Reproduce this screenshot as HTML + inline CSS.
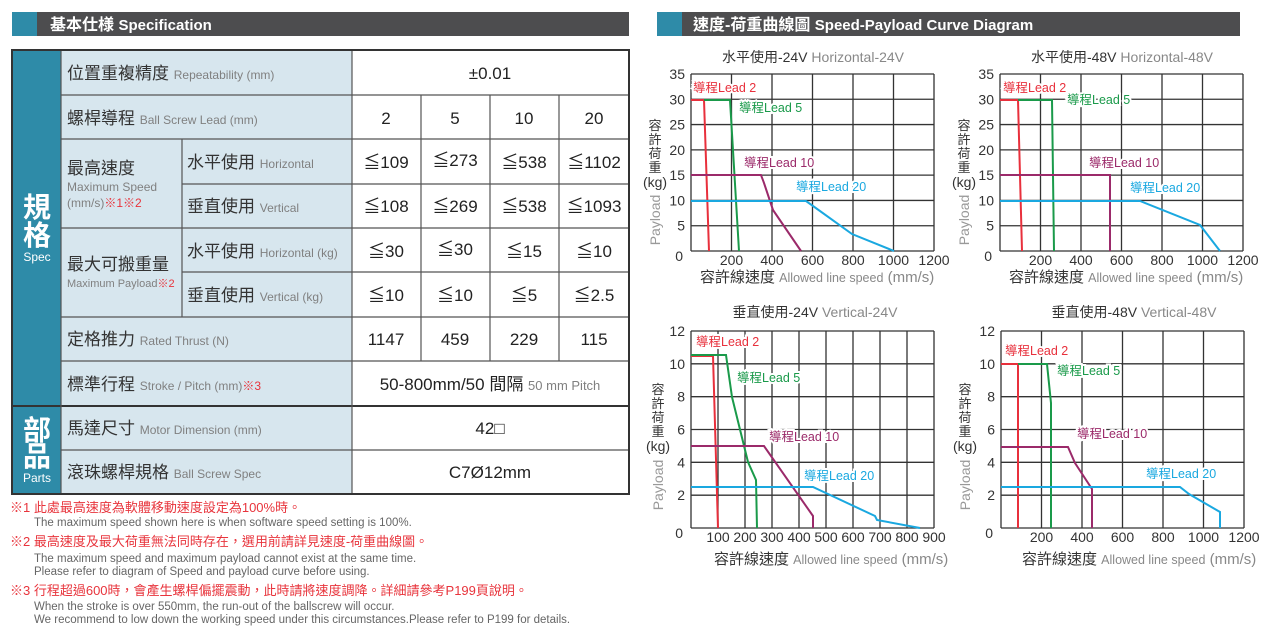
<!DOCTYPE html>
<html><head><meta charset="utf-8">
<style>
html,body{margin:0;padding:0;background:#fff;}
svg{display:block;font-family:"Liberation Sans","Noto Sans CJK TC",sans-serif;}
</style></head>
<body>
<svg id="s" width="1261" height="628" viewBox="0 0 1261 628" xmlns="http://www.w3.org/2000/svg">
<rect x="12" y="12" width="617" height="24" fill="#4d4d4f"/>
<rect x="12" y="12" width="25" height="24" fill="#2e8ba8"/>
<text x="50" y="30" fill="#fff" font-size="16" font-weight="bold">基本仕様 <tspan font-size="15">Specification</tspan></text>
<rect x="657" y="12" width="583" height="24" fill="#4d4d4f"/>
<rect x="657" y="12" width="25" height="24" fill="#2e8ba8"/>
<text x="693" y="30" fill="#fff" font-size="16" font-weight="bold">速度-荷重曲線圖 <tspan font-size="15">Speed-Payload Curve Diagram</tspan></text>

<rect x="61" y="50" width="291" height="444" fill="#d7e6ee"/>
<rect x="352" y="50" width="277" height="444" fill="#fff"/>
<rect x="12" y="50" width="49" height="444" fill="#2e8ba8"/>
<g stroke="#555" stroke-width="1.2" fill="none">
<line x1="61" y1="95" x2="629" y2="95"/>
<line x1="61" y1="139" x2="629" y2="139"/>
<line x1="182" y1="184" x2="629" y2="184"/>
<line x1="61" y1="228" x2="629" y2="228"/>
<line x1="182" y1="272" x2="629" y2="272"/>
<line x1="61" y1="317" x2="629" y2="317"/>
<line x1="61" y1="361" x2="629" y2="361"/>
<line x1="12" y1="406" x2="629" y2="406" stroke="#333" stroke-width="2"/>
<line x1="61" y1="450" x2="629" y2="450"/>
<line x1="182" y1="139" x2="182" y2="317"/>
<line x1="352" y1="50" x2="352" y2="494"/>
<line x1="421" y1="95" x2="421" y2="361"/>
<line x1="490" y1="95" x2="490" y2="361"/>
<line x1="559" y1="95" x2="559" y2="361"/>
<line x1="61" y1="50" x2="61" y2="494"/>
</g>
<rect x="12" y="50" width="617" height="444" fill="none" stroke="#333" stroke-width="2"/>

<g fill="#fff" text-anchor="middle" font-weight="bold">
<text x="37" y="217" font-size="28">規</text>
<text x="37" y="245" font-size="28">格</text>
<text x="37" y="261" font-size="12" font-weight="normal">Spec</text>
<text x="37" y="440" font-size="28">部</text>
<text x="37" y="466" font-size="28">品</text>
<text x="37" y="482" font-size="12" font-weight="normal">Parts</text>
</g>

<g font-size="17" fill="#333">
<text x="67" y="79">位置重複精度 <tspan font-size="12" fill="#808080">Repeatability (mm)</tspan></text>
<text x="67" y="124">螺桿導程 <tspan font-size="12" fill="#808080">Ball Screw Lead (mm)</tspan></text>
<text x="67" y="174">最高速度</text>
<text x="67" y="191" font-size="12" fill="#808080">Maximum Speed</text>
<text x="67" y="207" font-size="12" fill="#808080">(mm/s)<tspan fill="#e8343c">※1※2</tspan></text>
<text x="187" y="168">水平使用 <tspan font-size="12" fill="#808080">Horizontal</tspan></text>
<text x="187" y="212">垂直使用 <tspan font-size="12" fill="#808080">Vertical</tspan></text>
<text x="67" y="270">最大可搬重量</text>
<text x="67" y="287" font-size="11" fill="#808080">Maximum Payload<tspan fill="#e8343c">※2</tspan></text>
<text x="187" y="257">水平使用 <tspan font-size="12" fill="#808080">Horizontal (kg)</tspan></text>
<text x="187" y="301">垂直使用 <tspan font-size="12" fill="#808080">Vertical (kg)</tspan></text>
<text x="67" y="345">定格推力 <tspan font-size="12" fill="#808080">Rated Thrust (N)</tspan></text>
<text x="67" y="390">標準行程 <tspan font-size="12" fill="#808080">Stroke / Pitch (mm)</tspan><tspan font-size="12" fill="#e8343c">※3</tspan></text>
<text x="67" y="434">馬達尺寸 <tspan font-size="12" fill="#808080">Motor Dimension (mm)</tspan></text>
<text x="67" y="478">滾珠螺桿規格 <tspan font-size="12" fill="#808080">Ball Screw Spec</tspan></text>
</g>
<g font-size="17" fill="#222" text-anchor="middle">
<text x="490" y="79">±0.01</text>
<text x="386" y="124">2</text><text x="455" y="124">5</text><text x="524" y="124">10</text><text x="594" y="124">20</text>
<text x="386" y="168">≦109</text><text x="455" y="166">≦273</text><text x="524" y="168">≦538</text><text x="594" y="168">≦1102</text>
<text x="386" y="212">≦108</text><text x="455" y="212">≦269</text><text x="524" y="212">≦538</text><text x="594" y="212">≦1093</text>
<text x="386" y="257">≦30</text><text x="455" y="255">≦30</text><text x="524" y="257">≦15</text><text x="594" y="257">≦10</text>
<text x="386" y="301">≦10</text><text x="455" y="301">≦10</text><text x="524" y="301">≦5</text><text x="594" y="301">≦2.5</text>
<text x="386" y="345">1147</text><text x="455" y="345">459</text><text x="524" y="345">229</text><text x="594" y="345">115</text>
<text x="490" y="390">50-800mm/50 間隔 <tspan font-size="13" fill="#808080">50 mm Pitch</tspan></text>
<text x="490" y="434">42□</text>
<text x="490" y="478">C7Ø12mm</text>
</g>

<g font-size="13" fill="#e8343c">
<text x="10" y="512">※1 此處最高速度為軟體移動速度設定為100%時。</text>
<text x="10" y="546">※2 最高速度及最大荷重無法同時存在，選用前請詳見速度-荷重曲線圖。</text>
<text x="10" y="595">※3 行程超過600時，會產生螺桿偏擺震動，此時請將速度調降。詳細請參考P199頁說明。</text>
</g>
<g font-size="11.5" fill="#666">
<text x="34" y="526">The maximum speed shown here is when software speed setting is 100%.</text>
<text x="34" y="562">The maximum speed and maximum payload cannot exist at the same time.</text>
<text x="34" y="575">Please refer to diagram of Speed and payload curve before using.</text>
<text x="34" y="610">When the stroke is over 550mm, the run-out of the ballscrew will occur.</text>
<text x="34" y="623">We recommend to low down the working speed under this circumstances.Please refer to P199 for details.</text>
</g>
<g id="charts"></g>
</svg>
<script>
var NS="http://www.w3.org/2000/svg",G=document.getElementById("charts");
function el(t,a,txt){var e=document.createElementNS(NS,t);for(var k in a)e.setAttribute(k,a[k]);if(txt!==undefined)e.textContent=txt;G.appendChild(e);return e;}
function chart(c){
 var w=c.x1-c.x0,h=c.y1-c.y0;
 var nx=c.xmax/c.xs,ny=c.ymax/c.ys;
 el("rect",{x:c.x0,y:c.y0,width:w,height:h,fill:"#fff"});
 for(var i=0;i<=nx;i++){var x=c.x0+w*i/nx;el("line",{x1:x,y1:c.y0,x2:x,y2:c.y1,stroke:"#333","stroke-width":1.3});
  if(i>0)el("text",{x:x,y:c.y1+14,"font-size":14,fill:"#333","text-anchor":"middle"},String(i*c.xs));}
 for(var j=0;j<=ny;j++){var y=c.y1-h*j/ny;el("line",{x1:c.x0,y1:y,x2:c.x1,y2:y,stroke:"#333","stroke-width":1.3});
  el("text",{x:c.x0-(j==0?8:6),y:y+(j==0?10:5),"font-size":14,fill:"#333","text-anchor":"end"},String(j*c.ys));}
 el("text",{x:c.tx,y:c.ty,"font-size":14,fill:"#333","text-anchor":"middle"},"").innerHTML=c.title;
 var ch=["容","許","荷","重"];
 for(var k=0;k<4;k++)el("text",{x:c.ax,y:c.ay+k*14,"font-size":13,fill:"#333","text-anchor":"middle"},ch[k]);
 el("text",{x:c.ax,y:c.ay+4*14+1,"font-size":14,fill:"#333","text-anchor":"middle"},"(kg)");
 el("text",{x:0,y:0,"font-size":14,fill:"#999","text-anchor":"middle",transform:"translate("+(c.ax+5)+","+c.py+") rotate(-90)"},"Payload");
 el("text",{x:c.xtx,y:c.xty,"font-size":15,fill:"#333"},"").innerHTML='容許線速度 <tspan font-size="12.5" fill="#888">Allowed line speed</tspan> <tspan fill="#888">(mm/s)</tspan>';
 var cols={r:"#e8303c",g:"#1a9a4a",p:"#9b2a6a",b:"#1aa8e0"};
 c.s.forEach(function(s){el("polyline",{points:s[1],fill:"none",stroke:cols[s[0]],"stroke-width":2});});
 c.l.forEach(function(l){var t=el("text",{x:l[1],y:l[2],"font-size":12.5,fill:cols[l[0]],stroke:"#fff","stroke-width":4,"paint-order":"stroke"},"導程Lead "+l[3]);});
}
chart({x0:691,x1:934,y0:74,y1:251,xmax:1200,xs:200,ymax:35,ys:5,tx:813,ty:62,
 title:'水平使用-24V <tspan fill="#888">Horizontal-24V</tspan>',ax:655,ay:130,py:220,xtx:700,xty:282,
 s:[["r","691,100 704,100 709,251"],["g","704,100 730,100 739,251"],["p","691,175 761,175 764,183 773,210 801,251"],["b","691,201 806,201 813,206 852,234 894,251"]],
 l:[["r",693,92,"2"],["g",739,112,"5"],["p",744,167,"10"],["b",796,191,"20"]]});
chart({x0:1000,x1:1243,y0:74,y1:251,xmax:1200,xs:200,ymax:35,ys:5,tx:1122,ty:62,
 title:'水平使用-48V <tspan fill="#888">Horizontal-48V</tspan>',ax:964,ay:130,py:220,xtx:1009,xty:282,
 s:[["r","1000,100 1018,100 1022,251"],["g","1018,100 1052,100 1054,251"],["p","1000,175 1110,175 1110,251"],["b","1000,201 1140,201 1200,225 1220,251"]],
 l:[["r",1003,92,"2"],["g",1067,104,"5"],["p",1089,167,"10"],["b",1130,192,"20"]]});
chart({x0:691,x1:934,y0:331,y1:528,xmax:900,xs:100,ymax:12,ys:2,tx:815,ty:317,
 title:'垂直使用-24V <tspan fill="#888">Vertical-24V</tspan>',ax:658,ay:394,py:485,xtx:714,xty:564,
 s:[["r","691,356 713,356 718,528"],["g","691,355 726,355 732,397 748,462 756,480 757,528"],["p","691,446 764,446 813,516 813,528"],["b","691,487 813,487 875,516 877,520 920,528"]],
 l:[["r",696,346,"2"],["g",737,382,"5"],["p",769,441,"10"],["b",804,480,"20"]]});
chart({x0:1001,x1:1244,y0:331,y1:528,xmax:1200,xs:200,ymax:12,ys:2,tx:1134,ty:317,
 title:'垂直使用-48V <tspan fill="#888">Vertical-48V</tspan>',ax:965,ay:394,py:485,xtx:1022,xty:564,
 s:[["r","1001,364 1018,364 1018,528"],["g","1018,364 1047,364 1051,403 1051,528"],["p","1001,447 1068,447 1075,463 1092,489 1092,528"],["b","1001,487 1180,487 1189,494 1220,512 1220,528"]],
 l:[["r",1005,355,"2"],["g",1057,375,"5"],["p",1077,438,"10"],["b",1146,478,"20"]]});
</script>
</body></html>
